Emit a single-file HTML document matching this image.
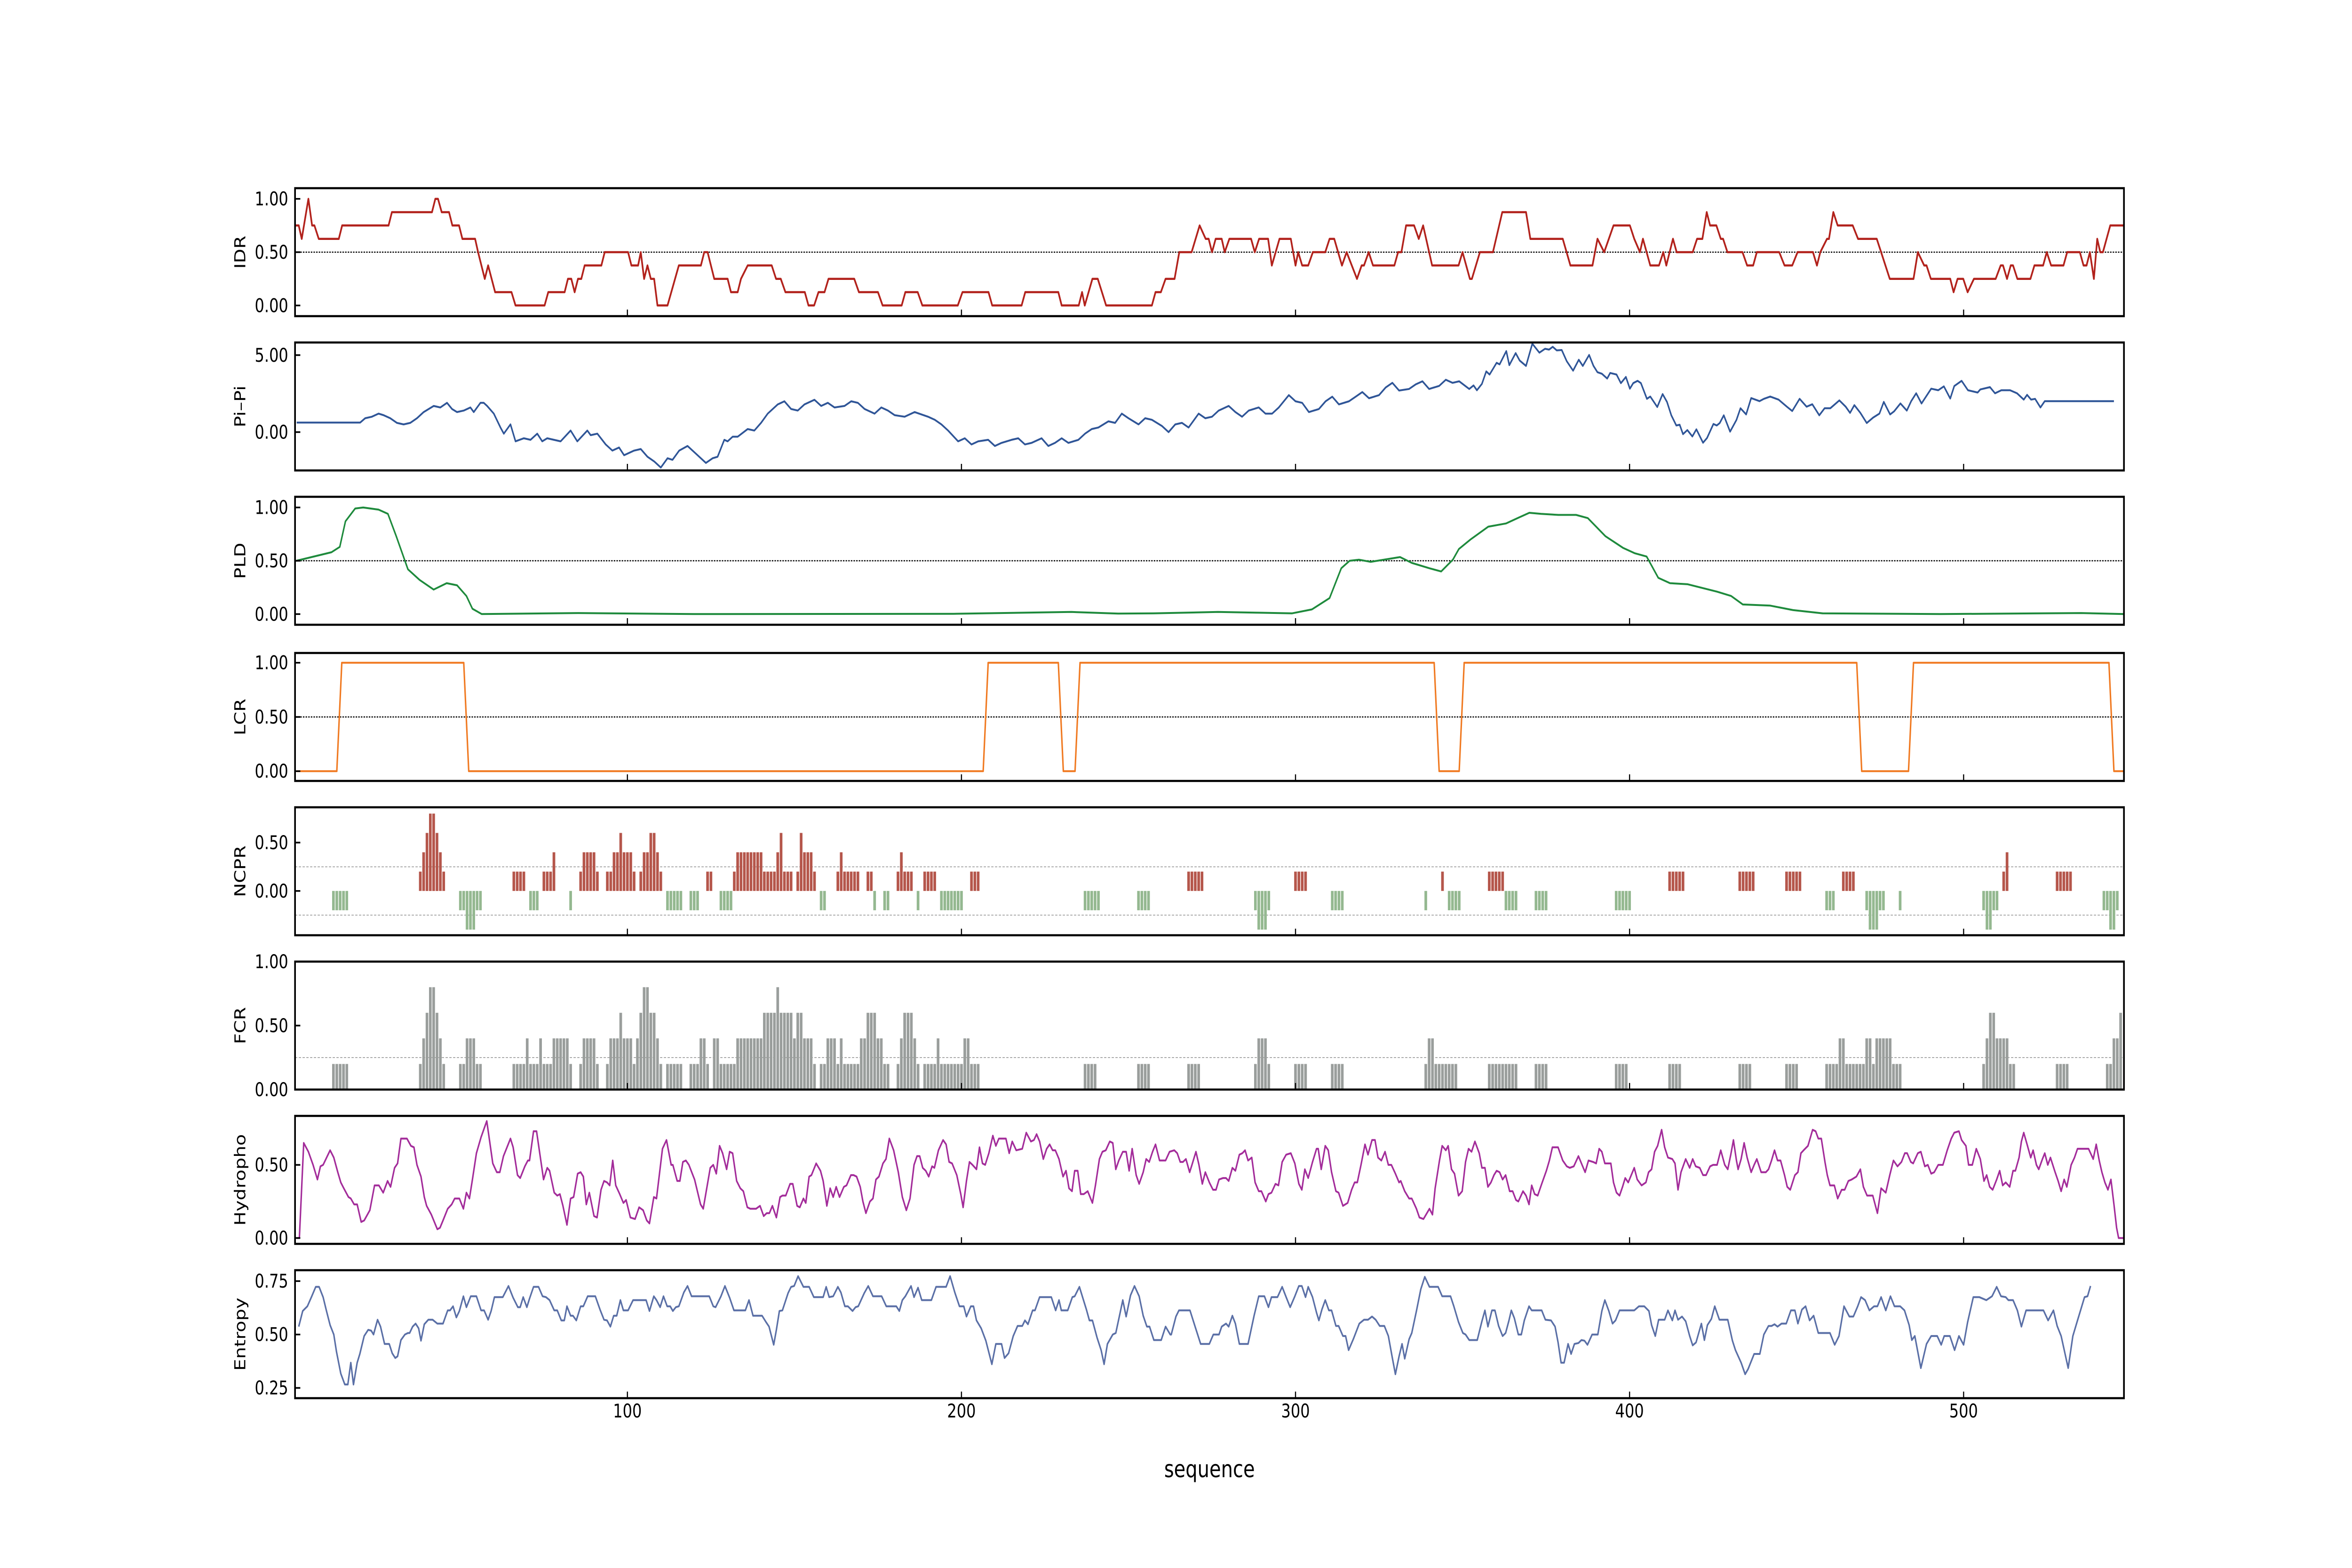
<!DOCTYPE html>
<html><head><meta charset="utf-8"><title>Sequence profile</title>
<style>
html,body{margin:0;padding:0;background:#fff;overflow:hidden;width:100%;height:100%;}
svg{display:block;width:100vw;height:100vh;}
text{font-family:"DejaVu Sans","Liberation Sans",sans-serif;fill:#000;}
</style></head>
<body>
<svg id="chart" xmlns="http://www.w3.org/2000/svg" viewBox="0 0 6250 3333" preserveAspectRatio="none">
<rect x="0" y="0" width="6250" height="3333" fill="#fff"/>
<g id="layer"></g>
<text x="3214" y="3140" font-size="50" text-anchor="middle">sequence</text>
</svg>
<script>
// ---------- data ----------
const xTicks = [100, 200, 300, 400, 500];

const idrData = [[0.5,0.75],[1.6,0.75],[2.5,0.625],[4.5,1],[5.6,0.75],[6.3,0.75],[7.6,0.625],[13.6,0.625],[14.6,0.75],[28.5,0.75],[29.5,0.875],[41.5,0.875],[42.5,1],[43.3,1],[44.4,0.875],[46.6,0.875],[47.6,0.75],[49.6,0.75],[50.6,0.625],[54.4,0.625],[55.3,0.5],[57.3,0.25],[58.3,0.375],[60.4,0.125],[65.3,0.125],[66.5,0],[75.2,0],[76.3,0.125],[81.2,0.125],[82.2,0.25],[83.2,0.25],[84.2,0.125],[85.2,0.25],[86.2,0.25],[87.2,0.375],[92.2,0.375],[93.2,0.5],[100.2,0.5],[101.2,0.375],[103.2,0.375],[104,0.5],[105,0.25],[106,0.375],[107,0.25],[108,0.25],[109,0],[112,0],[115.4,0.375],[122,0.375],[123,0.5],[124,0.5],[126,0.25],[130,0.25],[131,0.125],[133,0.125],[134,0.25],[136,0.375],[143.2,0.375],[144.5,0.25],[145.9,0.25],[147.3,0.125],[153.1,0.125],[154.2,0],[155.9,0],[157.2,0.125],[159,0.125],[160.2,0.25],[167.9,0.25],[169.3,0.125],[175,0.125],[176.4,0],[182.1,0],[183.2,0.125],[186.9,0.125],[188.3,0],[198.9,0],[200.3,0.125],[208.1,0.125],[209.2,0],[218,0],[219.1,0.125],[229,0.125],[230,0],[235.1,0],[236.1,0.125],[236.9,0],[239.2,0.25],[240.8,0.25],[243.3,0],[257,0],[258.1,0.125],[259.7,0.125],[261.1,0.25],[263.8,0.25],[265.2,0.5],[268.9,0.5],[271.3,0.75],[273.1,0.625],[274,0.625],[275,0.5],[276.1,0.625],[277.9,0.625],[278.8,0.5],[280.2,0.625],[286.7,0.625],[287.8,0.5],[289.1,0.625],[291.8,0.625],[292.9,0.375],[295.2,0.625],[298.6,0.625],[300,0.375],[300.8,0.5],[302,0.375],[303.8,0.375],[305.2,0.5],[308.9,0.5],[310.2,0.625],[311.6,0.625],[313.9,0.375],[315.3,0.5],[318.4,0.25],[319.8,0.375],[320.5,0.375],[321.9,0.5],[323.2,0.375],[329.6,0.375],[330.7,0.5],[331.7,0.5],[333.1,0.75],[335.5,0.75],[336.9,0.625],[338.2,0.75],[340.9,0.375],[348.8,0.375],[350,0.5],[352.2,0.25],[352.8,0.25],[355.2,0.5],[359.1,0.5],[361.9,0.875],[369,0.875],[370.3,0.625],[380,0.625],[382.3,0.375],[388.9,0.375],[390.4,0.625],[392.4,0.5],[395.2,0.75],[400.1,0.75],[401.4,0.625],[403.1,0.5],[404,0.625],[406.2,0.375],[408.8,0.375],[410.1,0.5],[411,0.375],[413,0.625],[414.1,0.5],[418.9,0.5],[420.2,0.625],[421.8,0.625],[423.1,0.875],[424.1,0.75],[426,0.75],[427.3,0.625],[428,0.625],[429.3,0.5],[433.8,0.5],[435.2,0.375],[437,0.375],[438.1,0.5],[444.8,0.5],[446.4,0.375],[448.7,0.375],[450.3,0.5],[454.9,0.5],[456.1,0.375],[457.1,0.5],[459.1,0.625],[459.7,0.625],[461,0.875],[462.3,0.75],[466.8,0.75],[468.4,0.625],[474,0.625],[475.3,0.5],[477.9,0.25],[485,0.25],[486.3,0.5],[488.2,0.375],[488.9,0.375],[490.2,0.25],[496,0.25],[497,0.125],[498.2,0.25],[499.9,0.25],[501.2,0.125],[503.1,0.25],[509.6,0.25],[511.1,0.375],[511.8,0.375],[513,0.25],[514.1,0.375],[514.8,0.375],[516.1,0.25],[520,0.25],[521.2,0.375],[523.8,0.375],[524.9,0.5],[526.2,0.375],[529.9,0.375],[531,0.5],[534.8,0.5],[535.9,0.375],[536.8,0.375],[537.8,0.5],[539,0.25],[540,0.625],[540.9,0.5],[541.7,0.5],[543.9,0.75],[548,0.75]];

const piData = [[1,0.62],[20,0.62],[21.5,0.9],[23.5,1.0],[25.5,1.2],[27,1.1],[29,0.9],[31,0.6],[33,0.5],[35,0.6],[37,0.9],[39,1.3],[42,1.7],[44,1.6],[46,1.9],[47.5,1.5],[49,1.3],[51,1.4],[53,1.6],[54,1.3],[56,1.9],[57,1.9],[58,1.7],[60,1.2],[62,0.3],[63,-0.1],[65,0.5],[66.5,-0.6],[69,-0.4],[71,-0.5],[73,-0.1],[74.5,-0.6],[76,-0.4],[78,-0.5],[80,-0.6],[83,0.1],[85,-0.6],[88,0.1],[89,-0.2],[91,-0.1],[93.5,-0.8],[95.5,-1.2],[97.5,-1.0],[99,-1.5],[102,-1.2],[104,-1.1],[106,-1.6],[108,-1.9],[110,-2.3],[112,-1.7],[113.5,-1.8],[115.5,-1.2],[118,-0.9],[120.5,-1.4],[123.5,-2.0],[125.5,-1.7],[127,-1.6],[129,-0.5],[130,-0.6],[131.5,-0.3],[133,-0.3],[136,0.2],[138,0.1],[140,0.6],[142,1.2],[145,1.8],[147,2.0],[149,1.5],[151,1.4],[153,1.8],[156,2.1],[158,1.7],[160,1.9],[162,1.6],[165,1.7],[167,2.0],[169,1.9],[171,1.5],[174,1.2],[176,1.6],[178,1.4],[180,1.1],[183,1.0],[186,1.3],[190,1.0],[192,0.8],[194,0.5],[196,0.1],[199,-0.6],[201,-0.4],[203,-0.8],[205,-0.6],[208,-0.5],[210,-0.9],[212,-0.7],[215,-0.5],[217,-0.4],[219,-0.8],[221,-0.7],[224,-0.4],[226,-0.9],[228,-0.7],[230,-0.4],[232,-0.7],[235,-0.5],[237,-0.1],[239,0.2],[241,0.3],[244,0.7],[246,0.6],[248,1.2],[250,0.9],[253,0.5],[255,0.9],[257,0.8],[260,0.4],[262,0],[264,0.5],[266,0.6],[268,0.3],[271,1.2],[273,0.9],[275,1.0],[277,1.4],[280,1.7],[282,1.3],[284,1.0],[286,1.4],[289,1.6],[291,1.2],[293,1.2],[295,1.6],[298,2.4],[300,2.0],[302,1.9],[304,1.3],[307,1.5],[309,2.0],[311,2.3],[313,1.8],[316,2.0],[318,2.3],[320,2.6],[322,2.2],[325,2.4],[327,2.9],[329,3.2],[331,2.7],[334,2.8],[336,3.1],[338,3.3],[340,2.8],[343,3.0],[345,3.4],[347,3.2],[349,3.3],[352,2.8],[353.3,3.03],[354.3,2.72],[355.8,3.13],[357.1,3.94],[358.1,3.74],[360.2,4.5],[361.1,4.4],[363.1,5.26],[364,4.35],[365.9,5.13],[367.1,4.65],[369,4.3],[370.9,5.74],[373,5.16],[374.7,5.41],[375.9,5.36],[377,5.54],[378.2,5.31],[379.7,5.33],[381.2,4.6],[383.1,3.99],[384.8,4.7],[386,4.3],[387.9,5.01],[389.2,4.3],[390.4,3.89],[391.7,3.79],[393.3,3.48],[394.2,3.84],[396.1,3.74],[397.4,3.18],[398.9,3.58],[400.1,2.82],[401.1,3.18],[402.4,3.33],[403.4,3.18],[405.2,2.16],[406.2,2.31],[408.3,1.63],[409.9,2.47],[411.2,1.96],[412.5,1.09],[414,0.43],[415,0.48],[416,-0.13],[417.3,0.13],[418.8,-0.28],[420,0.18],[422,-0.69],[423.2,-0.38],[425.1,0.53],[426.1,0.43],[427,0.59],[428.2,1.09],[430.1,0.03],[432,0.79],[433.2,1.55],[434.9,1.15],[436.4,2.21],[438.9,2.01],[440.2,2.16],[442.1,2.31],[444.6,2.11],[447.1,1.65],[448.7,1.37],[450.9,2.16],[453,1.65],[454.7,1.81],[456.8,1.09],[458.4,1.55],[460.1,1.55],[462.8,2.06],[464.7,1.65],[466,1.25],[467.3,1.75],[469.1,1.25],[471,0.59],[472.9,0.94],[474.8,1.2],[476.1,1.96],[478,1.15],[479.2,1.35],[481.1,1.86],[483,1.4],[484.3,2.01],[485.8,2.52],[487.4,1.86],[490.3,2.82],[492.4,2.72],[494.1,2.97],[496,2.18],[497.2,2.99],[499.4,3.33],[501.3,2.72],[504.2,2.57],[505,2.77],[507.9,2.92],[509.4,2.52],[511.3,2.72],[513.9,2.72],[516,2.52],[518,2.11],[519,2.42],[520.2,2.11],[521.4,2.16],[523,1.6],[524.3,2.01],[545,2.01]];

const pldData = [[0.9,0.5],[11.4,0.58],[13.9,0.63],[15.6,0.87],[18.5,0.99],[20.9,1.0],[25.5,0.98],[28.3,0.94],[30.8,0.73],[34.3,0.42],[37.8,0.32],[42,0.23],[45.9,0.29],[49,0.27],[51.8,0.17],[53.6,0.05],[56.4,0],[85.2,0.01],[120,0],[197.7,0.003],[232.9,0.02],[246.9,0.005],[257.5,0.007],[276.8,0.02],[289.1,0.013],[299,0.007],[304.9,0.044],[310.2,0.15],[313.7,0.43],[316.2,0.5],[319,0.51],[322.5,0.49],[331.3,0.535],[334.8,0.48],[340.1,0.43],[343.6,0.4],[347.1,0.51],[348.9,0.61],[352.4,0.7],[357.7,0.82],[363,0.85],[366.5,0.9],[370,0.95],[373.5,0.94],[378.7,0.93],[384,0.93],[387.5,0.9],[392.8,0.73],[398.1,0.62],[401.6,0.57],[405.1,0.54],[408.6,0.34],[412.1,0.29],[417.4,0.28],[426.2,0.21],[430.4,0.17],[433.9,0.09],[442,0.08],[449,0.037],[457.8,0.007],[493,0],[535.2,0.01],[548,0]];

const lcrData = [[1,0],[13,0],[14.5,1],[51,1],[52.5,0],[206.5,0],[208,1],[229,1],[230.5,0],[234,0],[235.5,1],[341.5,1],[343,0],[349,0],[350.5,1],[468,1],[469.5,0],[483.5,0],[485,1],[543.5,1],[545,0],[548,0]];

// runs: [start residue, end residue, value]
const ncprRuns = [[12,16,-0.2],[38,38,0.2],[39,39,0.4],[40,40,0.6],[41,42,0.8],[43,43,0.6],[44,44,0.4],[45,45,0.2],[50,51,-0.2],[52,54,-0.4],[55,56,-0.2],[66,69,0.2],[71,73,-0.2],[75,77,0.2],[78,78,0.4],[83,83,-0.2],[86,86,0.2],[87,90,0.4],[91,91,0.2],[94,95,0.2],[96,97,0.4],[98,98,0.6],[99,101,0.4],[102,102,0.2],[104,104,0.2],[105,106,0.4],[107,108,0.6],[109,109,0.4],[110,110,0.2],[112,116,-0.2],[119,121,-0.2],[124,125,0.2],[128,131,-0.2],[132,132,0.2],[133,140,0.4],[141,144,0.2],[145,145,0.4],[146,146,0.6],[147,149,0.2],[151,151,0.2],[152,152,0.6],[153,155,0.4],[156,156,0.2],[158,159,-0.2],[163,163,0.2],[164,164,0.4],[165,169,0.2],[172,173,0.2],[174,174,-0.2],[177,178,-0.2],[181,181,0.2],[182,182,0.4],[183,185,0.2],[187,187,-0.2],[189,192,0.2],[194,200,-0.2],[203,205,0.2],[237,241,-0.2],[253,256,-0.2],[268,272,0.2],[288,288,-0.2],[289,291,-0.4],[292,292,-0.2],[300,303,0.2],[311,314,-0.2],[339,339,-0.2],[344,344,0.2],[346,349,-0.2],[358,362,0.2],[363,366,-0.2],[372,375,-0.2],[396,400,-0.2],[412,416,0.2],[433,437,0.2],[447,451,0.2],[459,461,-0.2],[464,467,0.2],[471,471,-0.2],[472,474,-0.4],[475,476,-0.2],[481,481,-0.2],[506,506,-0.2],[507,508,-0.4],[509,510,-0.2],[512,512,0.2],[513,513,0.4],[528,532,0.2],[542,543,-0.2],[544,545,-0.4],[546,546,-0.2]];

const fcrRuns = [[12,16,0.2],[38,38,0.2],[39,39,0.4],[40,40,0.6],[41,42,0.8],[43,43,0.6],[44,44,0.4],[45,45,0.2],[50,51,0.2],[52,54,0.4],[55,56,0.2],[66,69,0.2],[70,70,0.4],[71,73,0.2],[74,74,0.4],[75,77,0.2],[78,82,0.4],[83,83,0.2],[86,86,0.2],[87,90,0.4],[91,91,0.2],[94,94,0.2],[95,97,0.4],[98,98,0.6],[99,101,0.4],[102,102,0.2],[103,103,0.4],[104,104,0.6],[105,106,0.8],[107,108,0.6],[109,109,0.4],[110,110,0.2],[112,116,0.2],[119,121,0.2],[122,123,0.4],[124,124,0.2],[126,127,0.4],[128,132,0.2],[133,140,0.4],[141,144,0.6],[145,145,0.8],[146,149,0.6],[150,150,0.4],[151,152,0.6],[153,155,0.4],[156,156,0.2],[158,159,0.2],[160,162,0.4],[163,163,0.2],[164,164,0.4],[165,169,0.2],[170,171,0.4],[172,174,0.6],[175,176,0.4],[177,178,0.2],[181,181,0.2],[182,182,0.4],[183,185,0.6],[186,186,0.4],[187,187,0.2],[189,192,0.2],[193,193,0.4],[194,200,0.2],[201,202,0.4],[203,205,0.2],[237,240,0.2],[253,256,0.2],[268,271,0.2],[288,288,0.2],[289,291,0.4],[292,292,0.2],[300,303,0.2],[311,314,0.2],[339,339,0.2],[340,341,0.4],[342,348,0.2],[358,366,0.2],[372,375,0.2],[396,399,0.2],[412,415,0.2],[433,436,0.2],[447,450,0.2],[459,462,0.2],[463,464,0.4],[465,470,0.2],[471,472,0.4],[473,473,0.2],[474,478,0.4],[479,481,0.2],[506,506,0.2],[507,507,0.4],[508,509,0.6],[510,513,0.4],[514,515,0.2],[528,531,0.2],[543,544,0.2],[545,546,0.4],[547,547,0.6]];

const hydroData = [[1,0],[1.8,0],[3.1,0.65],[4.5,0.59],[5.9,0.5],[7.2,0.4],[8.1,0.49],[8.9,0.5],[11,0.6],[12.1,0.55],[13.3,0.45],[14.2,0.38],[15.1,0.34],[16.5,0.28],[17.2,0.27],[18.2,0.23],[19.1,0.23],[20.3,0.11],[21.2,0.12],[22.9,0.19],[24.3,0.36],[25.6,0.36],[26.9,0.31],[28.2,0.39],[29.1,0.35],[30.3,0.48],[31.2,0.51],[32.2,0.68],[34,0.68],[35.2,0.63],[36.1,0.62],[37,0.5],[38.2,0.42],[39.2,0.28],[39.9,0.22],[41.3,0.16],[43.1,0.06],[43.9,0.07],[44.8,0.12],[46.2,0.2],[47.4,0.23],[48.3,0.27],[49.7,0.27],[50.9,0.2],[51.8,0.31],[52.7,0.27],[53.6,0.4],[54.8,0.58],[56.2,0.69],[57.9,0.8],[59.7,0.51],[60.9,0.45],[61.8,0.45],[62.9,0.56],[65,0.68],[65.8,0.62],[67.1,0.43],[67.9,0.41],[69.3,0.49],[70.2,0.53],[70.7,0.53],[71.9,0.73],[72.8,0.73],[74.2,0.51],[74.9,0.4],[76,0.48],[76.7,0.46],[78.1,0.31],[79,0.29],[79.8,0.3],[80.7,0.22],[81.9,0.09],[83,0.27],[83.9,0.28],[85.1,0.44],[86,0.45],[86.8,0.42],[87.7,0.23],[88.6,0.31],[90,0.15],[90.9,0.14],[92.1,0.33],[93,0.39],[93.9,0.38],[94.7,0.36],[95.6,0.53],[96.5,0.36],[97.7,0.3],[98.8,0.24],[99.6,0.26],[100.9,0.14],[102.3,0.13],[103.5,0.21],[104.7,0.19],[105.8,0.12],[106.6,0.1],[107.9,0.28],[108.7,0.27],[110.5,0.61],[111.7,0.67],[113.1,0.5],[113.6,0.5],[114.9,0.39],[115.7,0.39],[116.6,0.52],[117.5,0.53],[118.4,0.5],[120.1,0.4],[121.9,0.23],[122.7,0.2],[123.6,0.32],[124.8,0.48],[125.7,0.5],[126.6,0.44],[127.6,0.63],[128.5,0.58],[129.7,0.47],[130.6,0.59],[131.5,0.58],[132.7,0.39],[133.8,0.34],[134.7,0.32],[135.9,0.21],[136.8,0.2],[138.5,0.2],[139.7,0.22],[140.8,0.15],[141.7,0.17],[142.5,0.17],[143.4,0.22],[144.6,0.14],[145.7,0.28],[146.4,0.29],[147.4,0.29],[148.7,0.37],[149.5,0.37],[150.8,0.22],[151.6,0.21],[152.7,0.27],[153.4,0.24],[154.4,0.42],[155.1,0.43],[156.5,0.51],[157.8,0.46],[158.6,0.39],[159.7,0.22],[160.7,0.34],[161.6,0.28],[162.5,0.35],[163.5,0.28],[164.8,0.35],[165.6,0.36],[166.9,0.43],[167.7,0.43],[168.6,0.42],[169.7,0.35],[170.5,0.25],[171.4,0.17],[172.6,0.25],[173.5,0.27],[174.4,0.4],[175.3,0.42],[176.5,0.51],[177.4,0.54],[178.4,0.68],[179.7,0.6],[181.1,0.45],[182.3,0.28],[183.5,0.19],[184.6,0.27],[185.8,0.5],[186.7,0.56],[187.5,0.56],[188.4,0.48],[189.3,0.46],[190.2,0.42],[191.2,0.49],[191.9,0.48],[193.1,0.6],[194.5,0.67],[195.4,0.64],[196.3,0.52],[197.2,0.51],[198.6,0.43],[199.8,0.3],[200.5,0.21],[201.5,0.39],[202.4,0.52],[203.3,0.5],[204.5,0.47],[205.4,0.62],[206.3,0.51],[207.1,0.5],[208.2,0.58],[209.4,0.7],[210.3,0.63],[211.2,0.68],[213.3,0.68],[214.3,0.58],[215.2,0.66],[216.4,0.6],[218.2,0.61],[219.4,0.72],[220.8,0.66],[221.7,0.67],[222.5,0.71],[223.4,0.66],[224.5,0.54],[225.5,0.61],[226.4,0.64],[227.3,0.6],[228.1,0.6],[229.2,0.54],[230.4,0.42],[231.3,0.46],[232.2,0.34],[233.1,0.32],[233.9,0.46],[234.8,0.46],[235.7,0.3],[236.6,0.3],[237.8,0.32],[239.2,0.24],[240.1,0.36],[241.3,0.54],[242.2,0.59],[243.2,0.6],[244.4,0.66],[245.3,0.65],[246.2,0.47],[247.1,0.53],[248.3,0.59],[249.3,0.59],[250.2,0.46],[251.1,0.61],[252.3,0.43],[253.2,0.37],[254.4,0.45],[255.3,0.54],[256.2,0.52],[257.2,0.59],[258.1,0.64],[259.3,0.53],[261.1,0.53],[262.3,0.59],[263.7,0.6],[264.6,0.58],[265.5,0.52],[266.3,0.52],[267.2,0.54],[268.3,0.45],[269,0.5],[270.2,0.59],[271.1,0.5],[272.1,0.37],[273,0.45],[274.2,0.38],[275.3,0.33],[276.2,0.33],[277.1,0.4],[278.3,0.41],[279.2,0.41],[280,0.39],[281.1,0.48],[282,0.46],[283.2,0.57],[284.1,0.58],[284.9,0.6],[285.8,0.53],[286.9,0.55],[287.9,0.38],[289,0.32],[289.8,0.32],[291.1,0.25],[291.9,0.3],[292.8,0.31],[294,0.37],[294.9,0.36],[296,0.52],[297.2,0.57],[298.6,0.58],[299.8,0.51],[301,0.37],[301.9,0.33],[302.8,0.47],[303.8,0.41],[305.1,0.52],[306.3,0.61],[306.8,0.61],[307.7,0.47],[308.9,0.63],[309.8,0.6],[310.8,0.45],[312.1,0.32],[312.9,0.31],[314.2,0.22],[315.6,0.24],[316.8,0.33],[317.7,0.38],[318.5,0.38],[319.6,0.5],[320.8,0.64],[321.7,0.57],[322.9,0.67],[323.8,0.67],[324.7,0.55],[325.7,0.53],[326.8,0.59],[327.8,0.5],[328.7,0.5],[329.9,0.44],[331,0.38],[331.5,0.39],[332.7,0.32],[334,0.27],[334.8,0.27],[336.2,0.2],[337.1,0.14],[338.3,0.13],[340.1,0.2],[341,0.16],[341.8,0.34],[343.1,0.53],[343.9,0.63],[345,0.6],[345.7,0.63],[346.7,0.47],[347.6,0.44],[348.8,0.29],[349.9,0.32],[350.9,0.52],[351.8,0.61],[352.7,0.59],[353.7,0.66],[355,0.58],[355.8,0.48],[356.7,0.48],[357.6,0.35],[358.5,0.38],[359.4,0.43],[360.2,0.46],[361.1,0.45],[362,0.4],[362.9,0.43],[364.1,0.32],[365,0.32],[366,0.26],[366.7,0.25],[368.1,0.32],[369,0.29],[369.9,0.23],[370.7,0.36],[371.6,0.3],[372.5,0.29],[373.7,0.37],[375.1,0.46],[376,0.53],[376.9,0.62],[378.6,0.62],[380,0.53],[381.2,0.49],[382.1,0.48],[383.3,0.49],[384.7,0.56],[385.6,0.51],[386.7,0.45],[387.7,0.53],[389.1,0.52],[390,0.51],[390.9,0.61],[391.7,0.59],[392.6,0.51],[394.4,0.51],[395.2,0.38],[396.1,0.31],[397,0.29],[397.9,0.35],[398.7,0.41],[399.6,0.38],[400.5,0.43],[401.4,0.48],[402.3,0.4],[403.6,0.36],[404.9,0.38],[405.7,0.45],[406.6,0.47],[407.5,0.59],[408.4,0.63],[409.6,0.74],[410.5,0.62],[411.5,0.55],[412.8,0.54],[413.6,0.51],[414.5,0.33],[415.4,0.45],[416.8,0.54],[418,0.48],[418.9,0.54],[419.8,0.49],[421,0.48],[422,0.43],[422.9,0.43],[424.1,0.49],[425,0.5],[426.2,0.5],[427.3,0.6],[428.5,0.5],[429.4,0.47],[430.3,0.57],[431.1,0.67],[432,0.53],[432.5,0.47],[433.4,0.54],[434.3,0.65],[435.2,0.55],[436.4,0.45],[437.3,0.5],[438.1,0.54],[439.4,0.45],[440.8,0.45],[441.6,0.47],[442.5,0.53],[443.4,0.6],[444.3,0.53],[445.2,0.53],[446.4,0.43],[447.2,0.35],[448.1,0.33],[449.5,0.43],[450.4,0.45],[451.3,0.58],[452.1,0.6],[453.4,0.63],[454.8,0.74],[455.7,0.73],[456.5,0.68],[457.4,0.68],[458.5,0.52],[459.2,0.43],[460,0.36],[461.3,0.36],[462.3,0.27],[463.5,0.33],[464.4,0.33],[465.5,0.39],[466.5,0.4],[467.9,0.42],[469.1,0.47],[470,0.35],[471.1,0.29],[472.8,0.29],[474.2,0.17],[475.3,0.34],[476.7,0.31],[477.9,0.43],[479,0.53],[480.2,0.49],[481.4,0.52],[482.4,0.58],[483.1,0.58],[484.2,0.52],[484.9,0.51],[486.3,0.58],[487.2,0.59],[488.4,0.49],[489.3,0.5],[490.3,0.44],[491.2,0.45],[492.4,0.5],[493.8,0.5],[495.1,0.6],[496.3,0.68],[497.2,0.72],[498.6,0.73],[499.4,0.67],[500.7,0.63],[501.5,0.5],[502.6,0.5],[503.8,0.61],[505,0.54],[506.1,0.39],[506.9,0.43],[507.8,0.35],[508.7,0.33],[509.9,0.4],[510.8,0.46],[511.7,0.36],[512.6,0.38],[513.8,0.35],[514.8,0.46],[515.5,0.46],[516.6,0.55],[517.3,0.66],[518,0.72],[519,0.64],[520.1,0.55],[520.8,0.6],[521.8,0.5],[522.5,0.47],[523.6,0.54],[524.3,0.58],[525.2,0.5],[526,0.55],[527.4,0.45],[528.3,0.39],[529.2,0.32],[530.1,0.4],[530.9,0.35],[532.2,0.5],[533.2,0.55],[534.1,0.61],[537.4,0.61],[538.8,0.54],[539.7,0.64],[540.6,0.53],[541.4,0.45],[542.3,0.38],[543.2,0.33],[544.1,0.4],[545,0.23],[545.8,0.07],[546.4,0],[548,0]];

const entropyData = [[1.6,0.537],[2.8,0.61],[4.2,0.632],[5.4,0.675],[6.7,0.723],[7.7,0.723],[8.9,0.675],[9.8,0.617],[11,0.544],[12.1,0.5],[12.9,0.42],[14.2,0.317],[15.4,0.266],[16.3,0.266],[17.2,0.368],[18,0.266],[19.1,0.368],[19.9,0.409],[21.2,0.493],[22.4,0.522],[23.3,0.518],[24,0.5],[25.2,0.569],[26.1,0.537],[27.3,0.456],[28.7,0.456],[29.6,0.412],[30.5,0.39],[31.2,0.398],[32.2,0.474],[33.4,0.5],[34.3,0.507],[34.8,0.507],[35.7,0.537],[36.6,0.551],[37.5,0.529],[38.2,0.471],[39.2,0.548],[40.4,0.569],[41.7,0.569],[43.1,0.551],[44.8,0.551],[46.2,0.613],[46.9,0.613],[47.8,0.632],[48.8,0.58],[49.7,0.61],[50.9,0.679],[51.8,0.628],[53.1,0.679],[54.8,0.679],[56.2,0.613],[57.1,0.613],[58.3,0.569],[59.2,0.61],[60.2,0.675],[62.7,0.675],[64.4,0.727],[65.8,0.672],[67.2,0.628],[67.9,0.628],[68.8,0.675],[69.9,0.628],[70.7,0.668],[71.9,0.723],[73.4,0.723],[74.6,0.679],[75.6,0.675],[76.7,0.661],[78.1,0.613],[79,0.613],[80.2,0.566],[81.1,0.566],[81.9,0.632],[83,0.588],[83.7,0.588],[84.7,0.566],[86,0.632],[86.8,0.632],[88.1,0.679],[90.4,0.679],[91.8,0.617],[93,0.569],[93.9,0.566],[94.9,0.537],[95.9,0.588],[96.8,0.588],[97.9,0.661],[98.8,0.613],[100.2,0.613],[101.7,0.661],[105.6,0.661],[106.6,0.61],[107.9,0.679],[108.7,0.661],[109.8,0.628],[110.8,0.679],[111.9,0.632],[112.8,0.632],[113.6,0.61],[114.5,0.628],[115.4,0.632],[116.9,0.697],[118,0.727],[119.2,0.679],[124.5,0.679],[125.7,0.632],[126.4,0.628],[128,0.679],[129.2,0.727],[130.6,0.672],[131.9,0.613],[135.3,0.613],[136.4,0.661],[137.6,0.588],[140.3,0.588],[141.5,0.558],[142.4,0.537],[143.8,0.452],[144.6,0.522],[145.5,0.61],[146.4,0.613],[148.1,0.694],[149,0.723],[149.9,0.727],[151.1,0.773],[152.7,0.723],[154.4,0.723],[155.8,0.675],[158.6,0.675],[159.5,0.723],[160.4,0.675],[161.6,0.679],[163,0.723],[163.9,0.697],[165.1,0.632],[166,0.632],[167.4,0.61],[168.3,0.628],[169.1,0.632],[170.9,0.694],[172.1,0.727],[173.5,0.679],[176.1,0.679],[177.5,0.632],[180.5,0.632],[181.4,0.61],[182.3,0.661],[183.2,0.679],[184.9,0.727],[185.8,0.675],[187,0.719],[188.1,0.661],[191,0.661],[192.4,0.723],[195.4,0.723],[196.6,0.773],[198,0.697],[199.4,0.632],[200.7,0.632],[201.5,0.584],[202.8,0.632],[203.6,0.632],[204.5,0.566],[205.9,0.529],[207.3,0.471],[209.1,0.361],[210.3,0.456],[212,0.456],[212.9,0.39],[214.1,0.412],[215.5,0.493],[216.8,0.54],[218.2,0.54],[219,0.566],[219.9,0.548],[221.3,0.613],[222,0.613],[223.4,0.675],[226.9,0.675],[228.2,0.613],[229.2,0.661],[229.9,0.613],[231.8,0.613],[233.2,0.675],[233.9,0.679],[235.3,0.723],[237.4,0.617],[238.3,0.566],[239.2,0.566],[240.6,0.485],[241.8,0.427],[242.7,0.361],[243.7,0.456],[245.3,0.5],[246.2,0.507],[247.4,0.595],[248.3,0.661],[249.3,0.584],[250.6,0.683],[251.8,0.727],[253.2,0.679],[254.4,0.588],[255.5,0.537],[256.3,0.537],[257.6,0.474],[259.8,0.474],[261.1,0.537],[262.5,0.5],[262.8,0.5],[264.2,0.584],[265.1,0.613],[268.4,0.613],[269.8,0.544],[271.6,0.456],[274.2,0.456],[275.4,0.5],[276.2,0.5],[277.1,0.5],[277.9,0.537],[279.2,0.551],[280,0.537],[281.1,0.588],[282,0.551],[283.2,0.456],[285.8,0.456],[287.6,0.588],[289,0.679],[290.7,0.679],[291.9,0.628],[292.8,0.675],[294.6,0.675],[296,0.723],[297.2,0.675],[298.4,0.628],[299.8,0.679],[301,0.727],[301.9,0.727],[303,0.675],[303.8,0.723],[305.1,0.675],[306.3,0.602],[307,0.566],[307.9,0.617],[308.9,0.661],[310,0.613],[310.8,0.613],[312.1,0.54],[312.9,0.54],[314.2,0.493],[315,0.493],[315.9,0.427],[317.3,0.478],[319.1,0.551],[320.5,0.569],[321.7,0.569],[322.9,0.584],[324,0.569],[325.2,0.54],[326.6,0.54],[327.8,0.493],[328.9,0.398],[329.9,0.314],[331,0.398],[331.9,0.456],[332.7,0.387],[334,0.478],[334.8,0.507],[336.2,0.61],[337.5,0.712],[338.7,0.77],[340.1,0.723],[342.7,0.723],[343.9,0.679],[346.4,0.679],[347.4,0.632],[348.8,0.558],[350.1,0.507],[350.9,0.5],[352,0.474],[354.4,0.474],[355.8,0.562],[356.7,0.613],[357.6,0.537],[358.8,0.613],[359.7,0.613],[360.8,0.54],[362,0.493],[362.9,0.507],[363.9,0.566],[364.6,0.613],[365.5,0.577],[366.7,0.5],[367.6,0.5],[368.5,0.566],[369.9,0.632],[370.7,0.613],[373.7,0.613],[374.8,0.569],[376.5,0.566],[377.7,0.537],[378.6,0.463],[379.5,0.368],[380.4,0.368],[381.6,0.456],[382.5,0.409],[383.5,0.456],[384.7,0.46],[385.6,0.474],[386.5,0.471],[387.4,0.452],[388.8,0.5],[390.5,0.5],[391.7,0.61],[392.6,0.661],[393.8,0.61],[394.9,0.551],[395.8,0.566],[397,0.613],[401.4,0.613],[402.8,0.632],[404.4,0.632],[405.8,0.61],[406.6,0.544],[407.7,0.493],[408.7,0.569],[410.5,0.569],[411.5,0.613],[412.8,0.566],[413.6,0.613],[414.5,0.569],[415.7,0.584],[416.8,0.562],[418,0.493],[418.9,0.449],[419.9,0.463],[421.5,0.551],[422.4,0.474],[423.3,0.544],[424.5,0.573],[425.5,0.632],[426.9,0.569],[429.4,0.569],[430.8,0.471],[431.7,0.427],[433.4,0.368],[434.6,0.314],[435.5,0.339],[437.3,0.409],[439,0.409],[440.2,0.5],[441.6,0.54],[442.5,0.54],[443.4,0.548],[444.3,0.537],[445.5,0.551],[446.9,0.551],[448.3,0.613],[449.5,0.613],[450.4,0.551],[451.6,0.617],[452.7,0.632],[453.9,0.566],[455.1,0.588],[456.5,0.507],[460,0.507],[461.4,0.452],[462.7,0.493],[464.2,0.632],[465.8,0.584],[467,0.584],[468.3,0.632],[469.3,0.675],[470.5,0.661],[471.8,0.613],[473.2,0.632],[474.2,0.632],[475.3,0.675],[476.7,0.613],[478.1,0.679],[479.3,0.632],[481,0.632],[482.3,0.613],[483.7,0.544],[484.5,0.474],[485.4,0.493],[487.2,0.343],[488.9,0.456],[490.3,0.493],[492.1,0.493],[493.3,0.452],[494.2,0.493],[495.9,0.493],[497.3,0.427],[498.6,0.493],[500,0.452],[501.2,0.558],[502.9,0.675],[504.7,0.675],[506.8,0.661],[508.5,0.679],[509.9,0.723],[511.2,0.679],[512.6,0.675],[513.4,0.661],[514.8,0.661],[516.1,0.613],[517.3,0.537],[518.7,0.613],[520.1,0.613],[523.9,0.613],[525.3,0.566],[526.9,0.613],[528,0.54],[529.2,0.493],[531.3,0.343],[532.7,0.493],[534.1,0.566],[536.2,0.675],[537.1,0.679],[538,0.727]];

// ---------- layout ----------
const X0 = 784, X1 = 5644, XMIN = 0.5, XMAX = 548, PH = 272;
function sx(v){ return X0 + (v - XMIN) / (XMAX - XMIN) * (X1 - X0); }
function sy(p, v){ return p.top + (p.ymax - v) / (p.ymax - p.ymin) * PH; }

const panels = [
  {key:'idr', label:'IDR', top:400, ymin:-0.1, ymax:1.1, ticks:[0,0.5,1], ref:[0.5], refColor:'#000', kind:'line', data:idrData, color:'#b2221c', lw:4.5},
  {key:'pipi', label:'Pi–Pi', top:728, ymin:-2.49, ymax:5.82, ticks:[0,5], ref:[], kind:'line', data:piData, color:'#2f5597', lw:4},
  {key:'pld', label:'PLD', top:1056, ymin:-0.1, ymax:1.1, ticks:[0,0.5,1], ref:[0.5], refColor:'#000', kind:'line', data:pldData, color:'#1e8a3c', lw:4},
  {key:'lcr', label:'LCR', top:1388, ymin:-0.09, ymax:1.09, ticks:[0,0.5,1], ref:[0.5], refColor:'#000', kind:'line', data:lcrData, color:'#f07a22', lw:4},
  {key:'ncpr', label:'NCPR', top:1716, ymin:-0.458, ymax:0.865, ticks:[0,0.5], ref:[0.25,-0.25], refColor:'#aaa', kind:'ncpr', data:ncprRuns},
  {key:'fcr', label:'FCR', top:2044, ymin:0, ymax:1, ticks:[0,0.5,1], ref:[0.25], refColor:'#aaa', kind:'fcr', data:fcrRuns},
  {key:'hydro', label:'Hydropho', top:2372, ymin:-0.04, ymax:0.835, ticks:[0,0.5], ref:[], kind:'line', data:hydroData, color:'#a32c9a', lw:4},
  {key:'entropy', label:'Entropy', top:2700, ymin:0.202, ymax:0.801, ticks:[0.25,0.5,0.75], ref:[], kind:'line', data:entropyData, color:'#5a6fa6', lw:4}
];

const NS = 'http://www.w3.org/2000/svg';
const layer = document.getElementById('layer');
function mk(tag, attrs, parent){
  const e = document.createElementNS(NS, tag);
  for (const k in attrs) e.setAttribute(k, attrs[k]);
  (parent || layer).appendChild(e);
  return e;
}

const defs = mk('defs', {});
panels.forEach(function(p){
  const g = mk('g', {});
  
  

  const cp = mk('clipPath', {id: 'clip-' + p.key}, defs);
  mk('rect', {x: X0, y: p.top, width: X1 - X0, height: PH}, cp);

  p.ref.forEach(function(r){
    const l = mk('line', {x1: X0, x2: X1, y1: sy(p, r), y2: sy(p, r), stroke: p.refColor,
      'stroke-width': p.refColor === '#000' ? 2.5 : 2, 'stroke-dasharray': p.refColor === '#000' ? '4,3' : '6,4'}, g);
    
    
  });

  const plot = mk('g', {'clip-path': 'url(#clip-' + p.key + ')'}, g);
  
  

  if (p.kind === 'line') {
    const d = p.data.map(function(pt, i){ return (i ? 'L' : 'M') + sx(pt[0]).toFixed(1) + ',' + sy(p, pt[1]).toFixed(1); }).join('');
    const path = mk('path', {d: d, fill: 'none', stroke: p.color, 'stroke-width': p.lw, 'stroke-linejoin': 'round'}, plot);
    
    
  } else {
    const bw = 0.8 * (X1 - X0) / (XMAX - XMIN);
    const y0 = sy(p, 0);
    p.data.forEach(function(run){
      for (let i = run[0]; i <= run[1]; i++) {
        const yv = sy(p, run[2]);
        const col = p.kind === 'fcr' ? '#9a9e9c' : (run[2] >= 0 ? '#b5564b' : '#94b890');
        const b = mk('rect', {x: (sx(i) - bw / 2).toFixed(1), y: Math.min(y0, yv).toFixed(1), width: bw.toFixed(1), height: Math.abs(yv - y0).toFixed(1), fill: col}, plot);
        
        
      }
    });
  }

  const fr = mk('rect', {x: X0, y: p.top, width: X1 - X0, height: PH, fill: 'none', stroke: '#000', 'stroke-width': 4.5}, g);
  
  

  p.ticks.forEach(function(t){
    const yy = sy(p, t);
    const tk = mk('line', {x1: X0, x2: X0 + 14, y1: yy, y2: yy, stroke: '#000', 'stroke-width': 3.5}, g);
    
    
    const tl = mk('text', {x: X0 - 18, y: yy + 14, 'font-size': 40, 'text-anchor': 'end'}, g);
    tl.textContent = t.toFixed(2);
    
    
  });

  xTicks.forEach(function(t){
    const xx = sx(t);
    const tk = mk('line', {x1: xx, x2: xx, y1: p.top + PH, y2: p.top + PH - 14, stroke: '#000', 'stroke-width': 3}, g);
    
    
  });

  const cy = p.top + PH / 2;
  const yl = mk('text', {x: 0, y: 0, 'font-size': 40, 'text-anchor': 'middle', transform: 'translate(652,' + cy + ') rotate(-90)'}, g);
  yl.textContent = p.label;
  
  
});

xTicks.forEach(function(t){
  const tl = mk('text', {x: sx(t), y: 3013, 'font-size': 40, 'text-anchor': 'middle'});
  tl.textContent = String(t);
  
  
});
</script>
</body></html>
